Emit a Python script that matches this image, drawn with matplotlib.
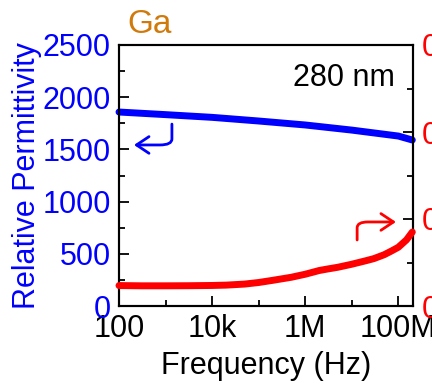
import numpy as np
import matplotlib
matplotlib.use("Agg")
import matplotlib.pyplot as plt
from matplotlib.path import Path
from matplotlib.patches import FancyArrowPatch

plt.rcParams['font.family'] = ['Liberation Sans', 'DejaVu Sans']

# Data
freq_p = [1e2, 1e3, 1e4, 1e5, 1e6, 1e7, 1e8, 2e8]
permittivity = [1858, 1833, 1807, 1772, 1734, 1685, 1628, 1590]

freq_l = [1e2, 3e2, 1e3, 3e3, 1e4, 2e4, 5e4, 1e5, 2e5, 5e5, 1e6, 1.5e6, 2e6, 3e6,
          5e6, 1e7, 2e7, 3e7, 5e7, 7e7, 1e8, 1.5e8, 2e8]
loss = [0.0235, 0.0232, 0.0232, 0.0233, 0.0236, 0.024, 0.0252, 0.027, 0.0295, 0.033,
        0.0365, 0.039, 0.0408, 0.0425, 0.0445, 0.048, 0.052, 0.0545, 0.059, 0.063,
        0.0675, 0.076, 0.085]

left_ticks = [0, 500, 1000, 1500, 2000, 2500]
right_ticks = [0.0, 0.1, 0.2, 0.3]
right_labels = ["0.0", "0.1", "0.2", "0.3"]
x_ticks = [1e2, 1e4, 1e6, 1e8]
x_labels = ["100", "10k", "1M", "100M"]

fig = plt.figure(figsize=(4.32, 3.85), dpi=100)
ax = fig.add_axes([119/432, 1-306/385, 294/432, 261/385])
ax2 = ax.twinx()

ax.plot(freq_p, permittivity, color='#0000FF', lw=5, solid_capstyle='round', zorder=3, clip_on=False)
ax2.plot(freq_l, loss, color='#FF0000', lw=5, solid_capstyle='round', solid_joinstyle='round',
         zorder=3, clip_on=False)

ax.set_xscale('log')
ax.set_xlim(1e2, 2.07e8)
ax.set_ylim(0, 2500)
ax2.set_ylim(0, 0.3)
ax.set_xticks(x_ticks)
ax.set_xticklabels(x_labels)
ax.set_xticks([1e3, 1e5, 1e7], minor=True)
ax.xaxis.set_minor_formatter(matplotlib.ticker.NullFormatter())
ax.set_yticks(left_ticks)
ax.set_yticks(np.arange(250, 2500, 500), minor=True)
ax2.set_yticks(right_ticks)
ax2.set_yticklabels(right_labels)
ax2.set_yticks([0.05, 0.15, 0.25], minor=True)

fs = 22
ax.tick_params(axis='both', which='major', direction='in', length=7, width=1.3, labelsize=fs, pad=6)
ax.tick_params(axis='both', which='minor', direction='in', length=4, width=1.3)
ax.tick_params(axis='y', colors='black', labelcolor='#0000FF')
ax2.tick_params(axis='y', which='major', direction='in', length=7, width=1.3, labelsize=fs, pad=6,
                labelcolor='#FF0000')
ax2.tick_params(axis='y', which='minor', direction='in', length=4, width=1.3)
for a in (ax, ax2):
    for s in a.spines.values():
        s.set_linewidth(1.5)

ax.set_xlabel("Frequency (Hz)", fontsize=fs, labelpad=5)
ax.set_ylabel("Relative Permittivity", fontsize=fs, color='#0000FF', labelpad=0)

fig.text(127/432, 1-33/385, "Ga", fontsize=24, color='#D07A0C', ha='left', va='baseline')
ax.text(0.94, 0.875, "280 nm", transform=ax.transAxes, fontsize=22, ha='right', va='center')

# Curved arrows
blue_path = Path([(0.180, 0.697), (0.180, 0.640), (0.180, 0.617), (0.139, 0.617), (0.051, 0.617)],
                 [Path.MOVETO, Path.LINETO, Path.CURVE3, Path.CURVE3, Path.LINETO])
red_path = Path([(0.810, 0.253), (0.810, 0.300), (0.810, 0.322), (0.847, 0.322), (0.942, 0.322)],
                [Path.MOVETO, Path.LINETO, Path.CURVE3, Path.CURVE3, Path.LINETO])
for p, c in ((blue_path, '#0000FF'), (red_path, '#FF0000')):
    arr = FancyArrowPatch(path=p, transform=ax.transAxes, arrowstyle='->,head_length=6,head_width=4',
                          color=c, lw=2, mutation_scale=1.5)
    ax.add_patch(arr)

fig.savefig("out.png", dpi=100)
